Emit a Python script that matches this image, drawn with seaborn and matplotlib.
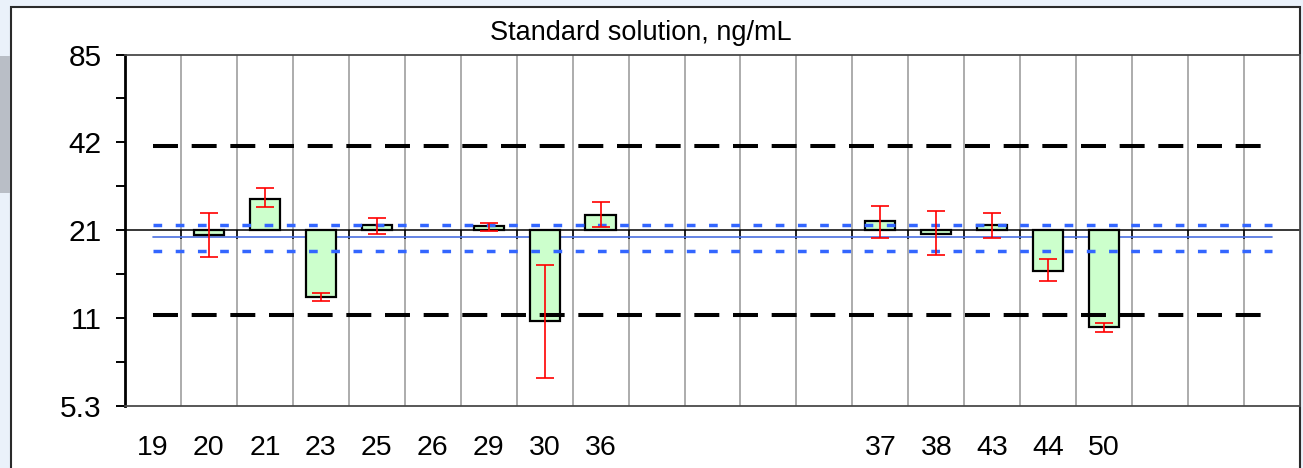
import numpy as np
import matplotlib
matplotlib.use("Agg")
import matplotlib.pyplot as plt
import seaborn as sns
from matplotlib.patches import Rectangle

# ---------------- data ----------------
labels = ["19", "20", "21", "23", "25", "26", "29", "30", "36", "", "", "", "",
          "37", "38", "43", "44", "50", "", "", ""]
nan = np.nan
values = [nan, 20.4, 27.2, 12.6, 22.1, nan, 21.9, 10.35, 24.06, nan, nan, nan, nan,
          22.8, 20.7, 22.1, 15.45, 9.94, nan, nan, nan]
err_low = [nan, 17.25, 25.5, 12.2, 20.7, nan, 21.2, 6.65, 21.85, nan, nan, nan, nan,
           20.0, 17.5, 20.0, 14.2, 9.52, nan, nan, nan]
err_high = [nan, 24.4, 29.6, 12.93, 23.4, nan, 22.5, 16.1, 26.5, nan, nan, nan, nan,
            25.8, 24.8, 24.4, 17.0, 10.2, nan, nan, nan]
assigned = 21.25
limit_low, limit_high = 10.9, 41.3
mean_value = 20.15
band_low, band_high = 17.99, 22.19
yticks = [5.3125, 10.625, 21.25, 42.5, 85.0]
ytick_labels = ["5.3", "11", "21", "42", "85"]
title = "Standard solution, ng/mL"

# ---------------- style ----------------
sns.set_theme(style="white")
plt.rcParams["font.family"] = ["Liberation Sans", "DejaVu Sans"]
plt.rcParams["text.color"] = "black"

W, H = 1303, 468
fig = plt.figure(figsize=(W / 100, H / 100), dpi=100)
fig.patch.set_facecolor("#eaf1fa")
fig.patches.append(Rectangle((11 / W, -0.02), (1300 - 11) / W, (H - 7) / H + 0.02,
                             transform=fig.transFigure, facecolor="white",
                             edgecolor="#2a2a2a", lw=1.5, zorder=-2))
fig.patches.append(Rectangle((0, 1 - 193 / H), 10 / W, (193 - 56) / H,
                             transform=fig.transFigure, facecolor="#b9bec6",
                             edgecolor="none", zorder=-1))

ax = fig.add_axes([125 / W, 1 - 406 / H, (1300 - 125) / W, (406 - 54.5) / H])
ax.set_facecolor("white")

x = np.arange(len(labels))
vals = np.array(values, dtype=float)
lo = np.array(err_low, dtype=float)
hi = np.array(err_high, dtype=float)

ax.set_yscale("log", base=2)
ax.set_ylim(yticks[0], yticks[-1])
ax.set_xlim(-0.5, len(labels) - 0.5)

# vertical grid at column boundaries
bounds = np.arange(0.5, len(labels) - 0.5, 1.0)
ax.vlines(bounds, yticks[0], yticks[-1], colors="#a6a6a6", lw=1.3, zorder=0)
ax.vlines(bounds, assigned * 2 ** (-9 / 88), assigned, colors="#222222", lw=1.4, zorder=1)

# reference lines
ax.axhline(assigned, color="black", lw=1.1, zorder=1)
xs = [0, len(labels) - 1]
sns.lineplot(x=xs, y=[mean_value] * 2, ax=ax, color="#4a6fe0", lw=1.2, zorder=2)
for v in (band_low, band_high):
    ax.plot(xs, [v, v], color="#3366ff", lw=2.5, dashes=(2.5, 3.9), zorder=4,
            solid_capstyle="butt", dash_capstyle="butt")
for v in (limit_low, limit_high):
    ax.plot(xs, [v, v], color="black", lw=2.9, dashes=(6.2, 3.4), zorder=4,
            dash_capstyle="butt")

# bars
ax.bar(x, vals - assigned, bottom=assigned, width=0.54, color="#ccffcc",
       edgecolor="black", lw=1.6, zorder=3)
ax.errorbar(x, vals, yerr=[vals - lo, hi - vals], fmt="none", ecolor="red",
            elinewidth=1.2, capsize=6.5, capthick=1.2, zorder=5)

# axes styling
ax.set_yticks(yticks)
ax.set_yticklabels(ytick_labels)
ax.set_yticks([v * np.sqrt(2) for v in yticks[:-1]], minor=True)
ax.yaxis.set_minor_formatter(matplotlib.ticker.NullFormatter())
ax.tick_params(axis="y", which="both", direction="out", length=6.5, width=1.4,
               color="black", labelcolor="black", left=True, labelsize=21.5, pad=10.5)
ax.set_xticks(x)
ax.set_xticklabels(labels)
ax.tick_params(axis="x", length=0, labelsize=20.5, pad=21, labelcolor="black")
for s in ("top", "bottom", "right"):
    ax.spines[s].set_color("#4a4a4a")
    ax.spines[s].set_linewidth(1.3)
ax.spines["left"].set_color("black")
ax.spines["left"].set_linewidth(2)
ax.set_xlabel("")
ax.set_ylabel("")

fig.text(641 / W, 1 - 40 / H, title, ha="center", va="baseline", fontsize=19.5,
         color="black")

fig.savefig("out.png", dpi=100, facecolor=fig.get_facecolor())
